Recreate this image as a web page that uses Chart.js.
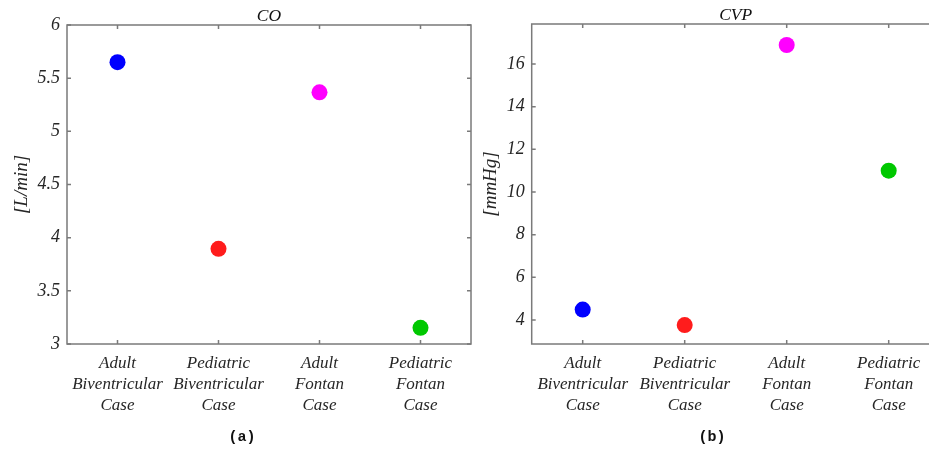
<!DOCTYPE html>
<html>
<head>
<meta charset="utf-8">
<script src="https://cdn.jsdelivr.net/npm/chart.js@4.4.0/dist/chart.umd.min.js"></script>
<style>
  html, body { margin:0; padding:0; width:929px; height:455px; overflow:hidden; background:#fff; }
  canvas { position:absolute; top:0; }
  #c1 { left:0; }
  #c2 { left:470px; }
  .cap { position:absolute; top:429px; font: bold 15px "Liberation Mono", "DejaVu Sans Mono", monospace; color:#111; width:60px; text-align:center; }
</style>
</head>
<body>
<canvas id="c1" width="480" height="455" style="width:480px;height:455px"></canvas>
<canvas id="c2" width="480" height="455" style="width:480px;height:455px"></canvas>
<div class="cap" style="left:212px">(a)</div>
<div class="cap" style="left:682px">(b)</div>
<script>
const categories = [
  ["Adult", "Biventricular", "Case"],
  ["Pediatric", "Biventricular", "Case"],
  ["Adult", "Fontan", "Case"],
  ["Pediatric", "Fontan", "Case"]
];
const coValues = [5.65, 3.895, 5.367, 3.152];
const cvpValues = [4.49, 3.76, 16.89, 11.0];
const pointColors = ["#0000ff", "#ff1c1c", "#ff00ff", "#00c800"];
const coTicks = [3, 3.5, 4, 4.5, 5, 5.5, 6];
const cvpTicks = [4, 6, 8, 10, 12, 14, 16];
const coTitle = "CO", cvpTitle = "CVP";
const coUnit = "[L/min]", cvpUnit = "[mmHg]";

const axisColor = "#7a7a7a";
const textColor = "#262626";
const serifFam = "'Liberation Serif', 'DejaVu Serif', serif";
const xFont = { family: serifFam, style: "italic", size: 17, lineHeight: 1.22 };
const yFont = { family: serifFam, style: "italic", size: 18 };
const unitFont = { family: serifFam, style: "italic", size: 19 };

const boxPlugin = {
  id: "box",
  beforeDatasetsDraw(chart, args, opts) {
    const { ctx, chartArea: a, scales } = chart;
    ctx.save();
    ctx.strokeStyle = axisColor;
    ctx.lineWidth = 1.5;
    ctx.strokeRect(a.left, a.top, a.right - a.left, a.bottom - a.top);
    const L = 4;
    ctx.beginPath();
    scales.x.ticks.forEach((t, i) => {
      const px = scales.x.getPixelForTick(i);
      ctx.moveTo(px, a.bottom); ctx.lineTo(px, a.bottom - L);
      ctx.moveTo(px, a.top); ctx.lineTo(px, a.top + L);
    });
    scales.y.ticks.forEach((t, i) => {
      const py = scales.y.getPixelForTick(i);
      ctx.moveTo(a.left, py); ctx.lineTo(a.left + L, py);
      ctx.moveTo(a.right, py); ctx.lineTo(a.right - L, py);
    });
    ctx.stroke();
    ctx.fillStyle = "#111";
    ctx.font = "italic 17.5px 'Liberation Serif', serif";
    ctx.textAlign = "center";
    ctx.textBaseline = "middle";
    ctx.fillText(opts.title, (a.left + a.right) / 2, a.top - 8.5);
    ctx.restore();
  }
};

function makeChart(id, values, ticks, min, max, title, unit, yWidth, titlePad, top, padRight) {
  return new Chart(document.getElementById(id), {
    type: "line",
    data: {
      labels: categories,
      datasets: [{
        data: values,
        showLine: false,
        pointRadius: 8,
        pointHoverRadius: 8,
        pointBorderWidth: 0,
        pointBackgroundColor: pointColors,
        pointBorderColor: pointColors
      }]
    },
    options: {
      responsive: false,
      animation: false,
      layout: { padding: { top: top, right: padRight, left: 0, bottom: 0 } },
      plugins: { legend: { display: false }, tooltip: { enabled: false }, box: { title: title } },
      scales: {
        x: {
          type: "category",
          offset: true,
          grid: { display: false, drawTicks: false },
          border: { display: false },
          ticks: { color: textColor, font: xFont, padding: 9.5, maxRotation: 0, autoSkip: false },
          afterFit(s) { s.height = 455 - 344; }
        },
        y: {
          type: "linear",
          min: min, max: max,
          grid: { display: false, drawTicks: false },
          border: { display: false },
          afterBuildTicks(s) { s.ticks = ticks.map(v => ({ value: v })); },
          ticks: { color: textColor, font: yFont, padding: 7, callback: v => String(+v.toFixed(2)) },
          title: { display: true, text: unit, color: textColor, font: unitFont, padding: { top: titlePad, bottom: 0 } },
          afterFit(s) { s.width = yWidth; }
        }
      }
    },
    plugins: [boxPlugin]
  });
}

makeChart("c1", coValues, coTicks, 3, 6, coTitle, coUnit, 67, 10.5, 25, 9);
makeChart("c2", cvpValues, cvpTicks, 2.875, 17.875, cvpTitle, cvpUnit, 61.7, 9.5, 24, 10.3);
</script>
</body>
</html>
